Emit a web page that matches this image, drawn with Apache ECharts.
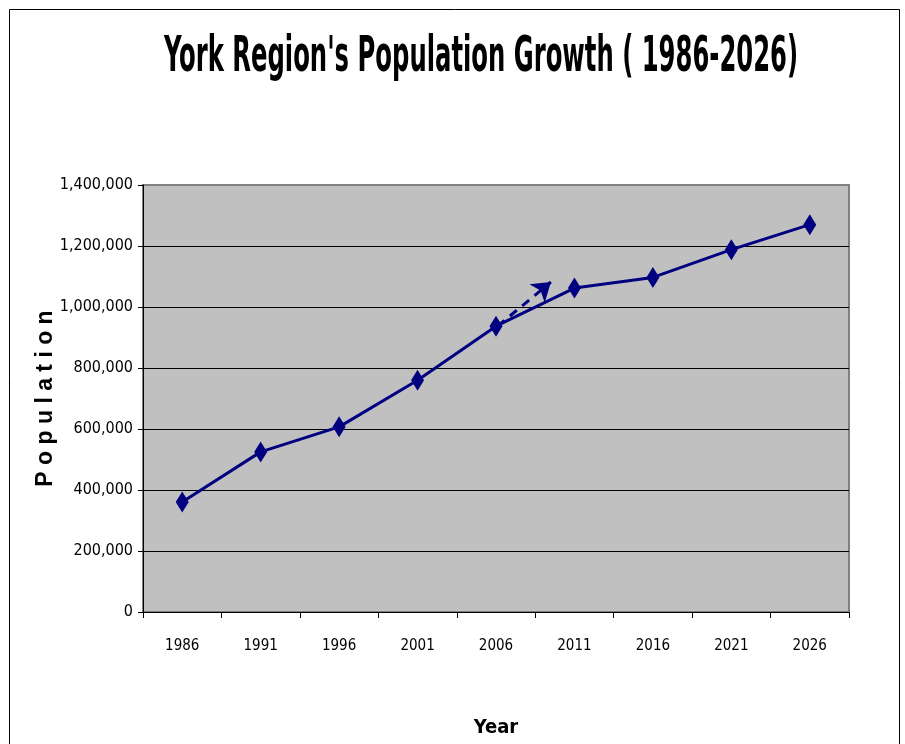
<!DOCTYPE html>
<html>
<head>
<meta charset="utf-8">
<title>York Region's Population Growth</title>
<script src="https://cdn.jsdelivr.net/npm/echarts@6/dist/echarts.min.js"></script>
<style>
  html, body { margin: 0; padding: 0; background: #fff; }
  #chart { width: 905px; height: 744px; }
</style>
</head>
<body>
<div id="chart"></div>
<script>
// values
const years = ['1986', '1991', '1996', '2001', '2006', '2011', '2016', '2021', '2026']
const population = [361000, 525000, 607000, 760000, 937000, 1062000, 1097000, 1188000, 1270000]
// dashed trend arrow near 2006 (x in category index units, y in people)
const arrowFrom = [4.02, 937000]
const arrowTo = [4.7, 1082000]

const narrow = "'Liberation Sans Narrow', 'Arial Narrow', 'DejaVu Sans Condensed', sans-serif"
const navy = '#000080'

const chart = echarts.init(document.getElementById('chart'))

chart.setOption({
  backgroundColor: '#fff',
  animation: false,
  graphic: [{
    type: 'rect',
    shape: { x: 9.5, y: 9.5, width: 890, height: 760 },
    style: { fill: 'none', stroke: '#000', lineWidth: 1 },
    silent: true
  }, {
    // title, squeezed horizontally like the condensed original
    type: 'text',
    x: 481,
    y: 58,
    scaleX: 0.54,
    scaleY: 1,
    style: {
      text: "York Region's Population Growth ( 1986-2026)",
      x: 0,
      y: 0,
      font: "bold 50px 'DejaVu Sans Condensed', sans-serif",
      fill: '#000',
      textAlign: 'center',
      textVerticalAlign: 'middle'
    },
    silent: true
  }],
  grid: {
    left: 143, right: 56, top: 185, bottom: 132,
    show: true,
    backgroundColor: '#c0c0c0',
    borderColor: '#808080',
    borderWidth: 2
  },
  xAxis: [{
    type: 'category',
    data: years,
    boundaryGap: true,
    name: 'Year',
    nameLocation: 'middle',
    nameGap: 106,
    nameTextStyle: { fontFamily: narrow, fontWeight: 'bold', fontSize: 20, color: '#000' },
    axisLine: { lineStyle: { color: '#000', width: 1 } },
    axisTick: { show: true, length: 6, alignWithLabel: false, lineStyle: { color: '#000' } },
    axisLabel: { margin: 27, fontFamily: narrow, fontSize: 15, color: '#000' },
    splitLine: { show: false }
  }, {
    type: 'value',
    min: -0.5,
    max: 8.5,
    show: false
  }],
  yAxis: {
    type: 'value',
    min: 0,
    max: 1400000,
    interval: 200000,
    name: 'P o p u l a t i o n',
    nameLocation: 'middle',
    nameGap: 86,
    nameMoveOverlap: false,
    nameRotate: 90,
    nameTextStyle: { fontFamily: "'Liberation Sans', Arial, sans-serif", fontWeight: 'bold', fontSize: 23, color: '#000' },
    axisLine: { show: true, onZero: false, lineStyle: { color: '#000', width: 1 } },
    axisTick: { show: true, length: 5, lineStyle: { color: '#000' } },
    axisLabel: {
      margin: 10,
      fontFamily: narrow,
      fontSize: 16,
      color: '#000',
      formatter: v => v.toLocaleString('en-US')
    },
    splitLine: { show: true, showMaxLine: false, lineStyle: { color: '#000', width: 1 } }
  },
  series: [{
    name: 'Population',
    type: 'line',
    xAxisIndex: 0,
    data: population,
    symbol: 'diamond',
    symbolSize: [13, 21],
    itemStyle: { color: navy },
    lineStyle: { color: navy, width: 3 },
    z: 3
  }, {
    name: 'Trend',
    type: 'lines',
    coordinateSystem: 'cartesian2d',
    xAxisIndex: 1,
    yAxisIndex: 0,
    symbol: ['none', 'arrow'],
    symbolSize: 18,
    lineStyle: { color: navy, width: 3, type: [9, 7], opacity: 1 },
    data: [{ coords: [arrowFrom, arrowTo] }],
    z: 2
  }]
})
</script>
</body>
</html>
